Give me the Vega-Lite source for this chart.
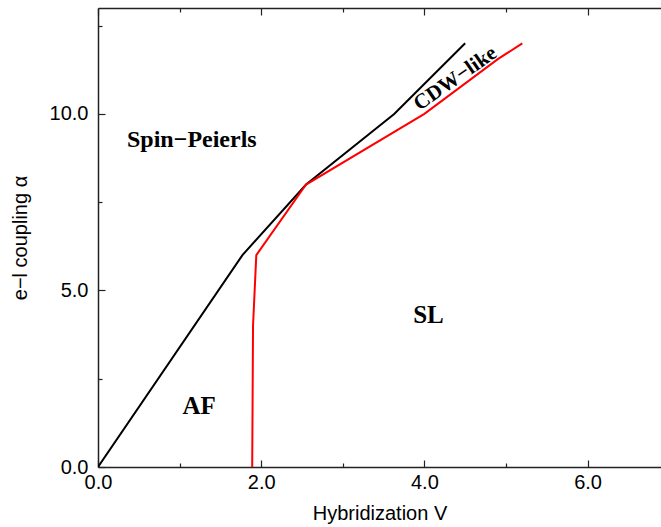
{
  "$schema": "https://vega.github.io/schema/vega-lite/v6.json",
  "width": 563,
  "height": 459,
  "autosize": {"type": "none"},
  "padding": {"left": 98, "top": 8, "right": 0, "bottom": 60},
  "background": "white",
  "config": {
    "view": {"stroke": null},
    "axis": {
      "domainColor": "#222222",
      "domainWidth": 1.5,
      "tickColor": "#222222",
      "tickWidth": 1.2,
      "grid": false,
      "labelFlush": false,
      "labelOverlap": false,
      "labelFont": "Liberation Sans",
      "labelFontSize": 20,
      "labelColor": "#000000",
      "titleFont": "Liberation Sans",
      "titleFontSize": 20,
      "titleFontWeight": "normal",
      "titleColor": "#000000"
    }
  },
  "datasets": {
    "lines": [
      {"curve": "black", "i": 0, "V": 0.0, "alpha": 0.0},
      {"curve": "black", "i": 1, "V": 1.77, "alpha": 6.0},
      {"curve": "black", "i": 2, "V": 2.55, "alpha": 8.0},
      {"curve": "black", "i": 3, "V": 3.63, "alpha": 10.0},
      {"curve": "black", "i": 4, "V": 4.5, "alpha": 12.0},
      {"curve": "red", "i": 0, "V": 1.89, "alpha": 0.0},
      {"curve": "red", "i": 1, "V": 1.9, "alpha": 4.0},
      {"curve": "red", "i": 2, "V": 1.94, "alpha": 6.0},
      {"curve": "red", "i": 3, "V": 2.55, "alpha": 8.0},
      {"curve": "red", "i": 4, "V": 4.0, "alpha": 10.0},
      {"curve": "red", "i": 5, "V": 4.9, "alpha": 11.55},
      {"curve": "red", "i": 6, "V": 5.2, "alpha": 12.0}
    ],
    "labels": [
      {"text": "Spin−Peierls", "V": 1.15, "alpha": 9.07, "angle": 0, "size": 24},
      {"text": "AF", "V": 1.24, "alpha": 1.51, "angle": 0, "size": 25},
      {"text": "SL", "V": 4.05, "alpha": 4.08, "angle": 0, "size": 25},
      {"text": "CDW−like", "V": 4.38, "alpha": 11.0, "angle": -35, "size": 21}
    ]
  },
  "layer": [
    {
      "data": {"name": "lines"},
      "mark": {"type": "line", "strokeWidth": 2, "clip": true},
      "encoding": {
        "x": {
          "field": "V", "type": "quantitative",
          "scale": {"domain": [0, 6.9], "nice": false, "zero": false},
          "axis": {
            "orient": "bottom",
            "title": "Hybridization V",
            "values": [0, 1, 2, 3, 4, 5, 6],
            "labelExpr": "datum.value % 2 == 0 ? format(datum.value, '.1f') : ''",
            "tickSize": {"condition": {"test": "datum.value % 2 == 0", "value": -7}, "value": -4},
            "labelPadding": 12,
            "titlePadding": 8
          }
        },
        "y": {
          "field": "alpha", "type": "quantitative",
          "scale": {"domain": [0, 13], "nice": false, "zero": false},
          "axis": {
            "title": "e−l coupling α",
            "values": [0, 2.5, 5, 7.5, 10, 12.5],
            "labelExpr": "datum.value % 5 == 0 ? format(datum.value, '.1f') : ''",
            "tickSize": {"condition": {"test": "datum.value % 5 == 0", "value": -7}, "value": -4},
            "labelPadding": 17,
            "titlePadding": 19
          }
        },
        "color": {
          "field": "curve", "type": "nominal",
          "scale": {"domain": ["black", "red"], "range": ["#000000", "#ff0000"]},
          "legend": null
        },
        "order": {"field": "i", "type": "quantitative"}
      }
    },
    {
      "data": {"name": "lines"},
      "mark": {"type": "point", "opacity": 0},
      "encoding": {
        "x": {
          "field": "V", "type": "quantitative",
          "axis": {
            "orient": "top",
            "title": null,
            "labels": false,
            "values": [0, 1, 2, 3, 4, 5, 6],
            "tickSize": {"condition": {"test": "datum.value % 2 == 0", "value": -7}, "value": -4}
          }
        },
        "y": {"field": "alpha", "type": "quantitative", "axis": null}
      }
    },
    {
      "data": {"name": "labels"},
      "mark": {"type": "text", "font": "Liberation Serif", "fontWeight": "bold", "align": "center", "baseline": "alphabetic", "color": "#000000"},
      "transform": [{"filter": "datum.angle == 0"}],
      "encoding": {
        "x": {"field": "V", "type": "quantitative", "axis": null},
        "y": {"field": "alpha", "type": "quantitative", "axis": null},
        "text": {"field": "text"},
        "size": {"field": "size", "type": "quantitative", "scale": null}
      }
    },
    {
      "data": {"name": "labels"},
      "mark": {"type": "text", "font": "Liberation Serif", "fontWeight": "bold", "align": "center", "baseline": "middle", "angle": -35, "color": "#000000"},
      "transform": [{"filter": "datum.angle != 0"}],
      "encoding": {
        "x": {"field": "V", "type": "quantitative", "axis": null},
        "y": {"field": "alpha", "type": "quantitative", "axis": null},
        "text": {"field": "text"},
        "size": {"field": "size", "type": "quantitative", "scale": null}
      }
    }
  ],
  "resolve": {"axis": {"x": "independent", "y": "independent"}}
}
